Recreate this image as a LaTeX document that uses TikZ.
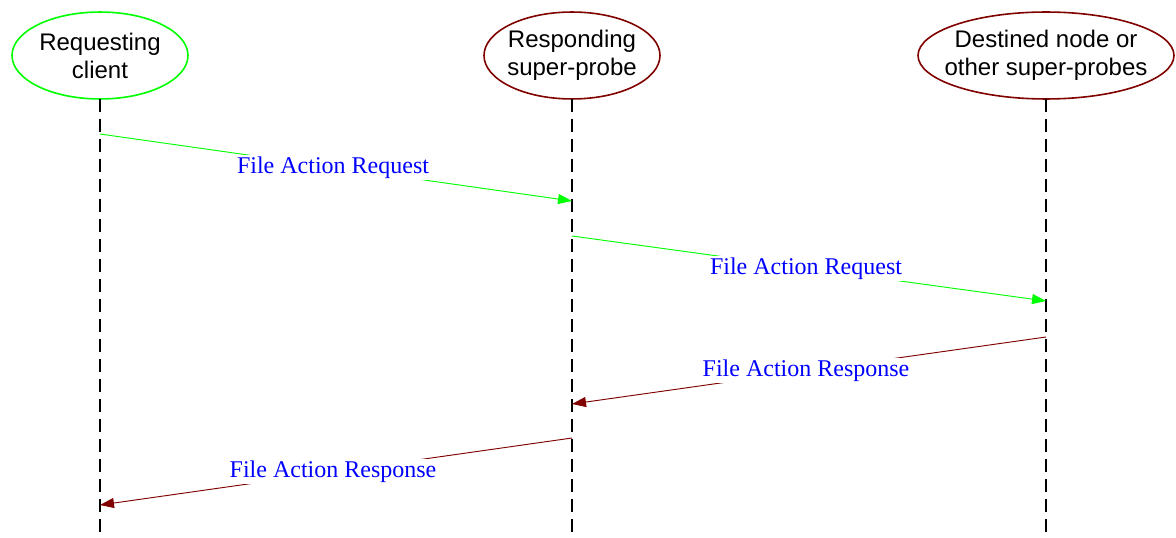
\documentclass[tikz,border=0pt]{standalone}
\usepackage{fontspec}
\setmainfont{Liberation Serif}
\setsansfont{Liberation Sans}
\usepackage{tikz}
\usetikzlibrary{arrows.meta}
\definecolor{msgred}{RGB}{128, 0, 0}
\definecolor{msggreen}{RGB}{0, 255, 0}

\begin{document}
\begin{tikzpicture}[x = 0.75pt, y = -0.75pt,
  actor/.style = {align = center, font = \sffamily\fontsize{18}{21}\selectfont},
  lifeline/.style = {line width = 1.1pt, dash pattern = on 9.75pt off 5.25pt},
  msg/.style = {line width = 0.7pt, -{Triangle[length = 10.5pt, width = 7.5pt]}},
  msglabel/.style = {fill = white, text = blue, inner sep = 1pt, xshift = -2.25pt, font = \fontsize{18}{21}\selectfont}]
\useasboundingbox (0, 0) rectangle (1176, 538);
%\draw[very thin, color = gray](0, 0) grid[step = 50] (1176, 538);
\node (req) at (100, 55.5) [actor] {Requesting\\client};
\node (resp) at (572, 55.5) [actor] {Responding\\super-probe};
\node (dest) at (1046, 55.5) [actor] {Destined node or\\other super-probes};
\draw [line width = 1.2pt, color = msggreen] (req.center) ellipse [x radius = 66pt, y radius = 32.6pt];
\draw [line width = 1.2pt, color = msgred] (resp.center) ellipse [x radius = 66pt, y radius = 32.6pt];
\draw [line width = 1.2pt, color = msgred] (dest.center) ellipse [x radius = 96pt, y radius = 32.6pt];
\coordinate (reqtop) at (100, 99);
\coordinate (reqbot) at (100, 538);
\coordinate (resptop) at (572, 99);
\coordinate (respbot) at (572, 538);
\coordinate (desttop) at (1046, 99);
\coordinate (destbot) at (1046, 538);
\draw [lifeline] (reqtop) -- (reqbot);
\draw [lifeline] (resptop) -- (respbot);
\draw [lifeline] (desttop) -- (destbot);
\coordinate (m1a) at (100, 134);
\coordinate (m1b) at (572, 201);
\coordinate (m2a) at (572, 236);
\coordinate (m2b) at (1046, 301);
\coordinate (m3a) at (1046, 337);
\coordinate (m3b) at (572, 404);
\coordinate (m4a) at (572, 438);
\coordinate (m4b) at (100, 505);
\draw [msg, color = msggreen] (m1a) -- node [msglabel] {File Action Request} (m1b);
\draw [msg, color = msggreen] (m2a) -- node [msglabel] {File Action Request} (m2b);
\draw [msg, color = msgred] (m3a) -- node [msglabel] {File Action Response} (m3b);
\draw [msg, color = msgred] (m4a) -- node [msglabel] {File Action Response} (m4b);
\end{tikzpicture}
\end{document}
